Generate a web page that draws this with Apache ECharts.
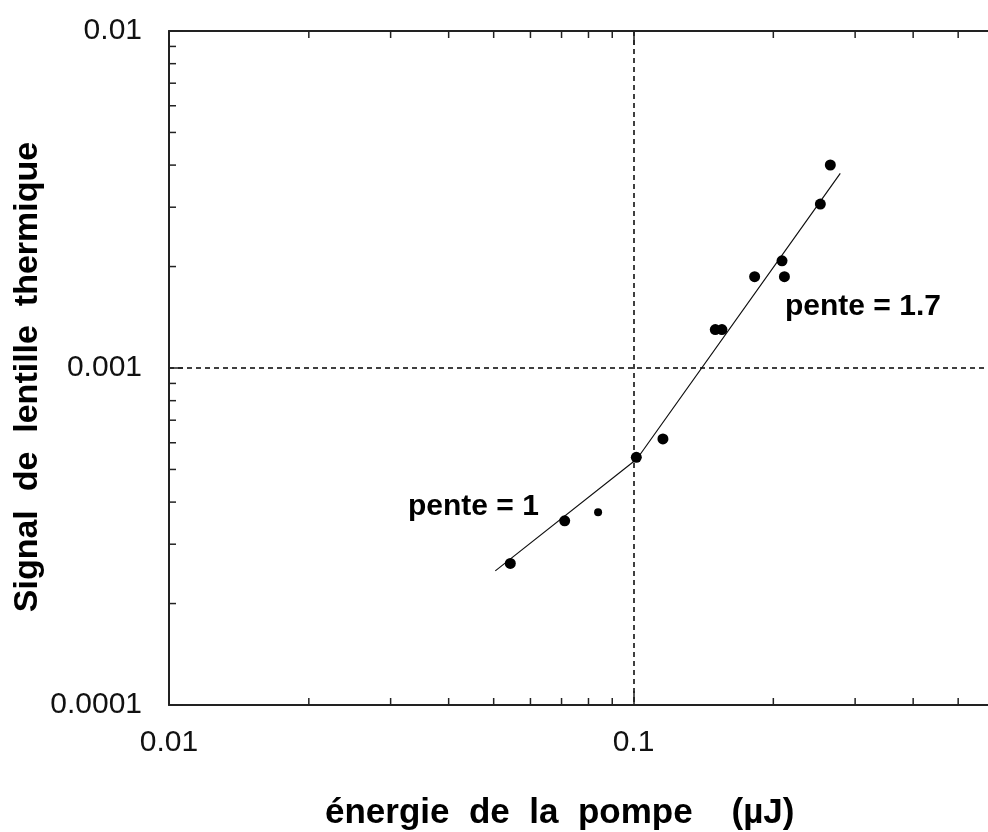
<!DOCTYPE html>
<html>
<head>
<meta charset="utf-8">
<script src="https://cdn.jsdelivr.net/npm/echarts@6/dist/echarts.min.js"></script>
<style>
html,body{margin:0;padding:0;background:#fff;overflow:hidden;width:988px;height:832px;}
#c{width:1110px;height:832px;}
</style>
</head>
<body>
<div id="c"></div>
<script>
// Data
var energy = [0.0543, 0.0711, 0.1014, 0.1157, 0.150, 0.155, 0.1823, 0.2088, 0.2113, 0.2525, 0.2653];
var signal = [0.000263, 0.000352, 0.000543, 0.000616, 0.0013, 0.0013, 0.001866, 0.00208, 0.001866, 0.003066, 0.004003];
var smallEnergy = [0.0839];
var smallSignal = [0.000373];
var fitEnergy = [0.0504, 0.1017, 0.2787];
var fitSignal = [0.00025, 0.000537, 0.00378];
var xMinorTicks = [0.02, 0.03, 0.04, 0.05, 0.06, 0.07, 0.08, 0.09, 0.2, 0.3, 0.4, 0.5, 0.6, 0.7, 0.8, 0.9];
var yMinorTicks = [0.0002, 0.0003, 0.0004, 0.0005, 0.0006, 0.0007, 0.0008, 0.0009, 0.002, 0.003, 0.004, 0.005, 0.006, 0.007, 0.008, 0.009];
var xTickLabels = {'0.01': '0.01', '0.1': '0.1', '1': '1'};
var yTickLabels = {'0.0001': '0.0001', '0.001': '0.001', '0.01': '0.01'};
var xTitle = 'énergie  de  la  pompe    (µJ)';
var yTitle = 'Signal  de  lentille  thermique';
var note1 = 'pente = 1';
var note2 = 'pente = 1.7';

var X_MIN = 0.01, X_MAX = 1, Y_MIN = 0.0001, Y_MAX = 0.01;
var FONT = '"Liberation Sans", Arial, sans-serif';

function fmt(map) {
  return function (v) {
    var k = String(+Number(v).toPrecision(1));
    return map[k] !== undefined ? map[k] : '';
  };
}

var chart = echarts.init(document.getElementById('c'), null, {renderer: 'canvas'});

var axisLineStyle = {color: '#222', width: 2};
var dashStyle = {type: [5, 4], color: '#000', width: 1.5};

var xMinorData = xMinorTicks.map(function (v) { return [v, Y_MIN]; });
var yMinorData = yMinorTicks.map(function (v) { return [X_MIN, v]; });

var option = {
  animation: false,
  backgroundColor: '#fff',
  grid: {left: 169, top: 31, width: 929, height: 674, containLabel: false},
  xAxis: [{
    type: 'log', logBase: 10, min: X_MIN, max: X_MAX, position: 'bottom',
    axisLine: {show: true, lineStyle: axisLineStyle},
    axisTick: {show: true, inside: true, length: 14, lineStyle: {color: '#222', width: 1.5}},
    axisLabel: {show: true, fontSize: 30, fontFamily: FONT, color: '#111', margin: 23, formatter: fmt(xTickLabels)},
    splitLine: {show: true, lineStyle: dashStyle},
    minorTick: {show: false}
  }, {
    type: 'log', logBase: 10, min: X_MIN, max: X_MAX, position: 'top',
    axisLine: {show: true, lineStyle: axisLineStyle},
    axisTick: {show: true, inside: true, length: 14, lineStyle: {color: '#222', width: 1.5}},
    axisLabel: {show: false},
    splitLine: {show: false}
  }],
  yAxis: [{
    type: 'log', logBase: 10, min: Y_MIN, max: Y_MAX, position: 'left',
    axisLine: {show: true, lineStyle: axisLineStyle},
    axisTick: {show: true, inside: true, length: 14, lineStyle: {color: '#222', width: 1.5}},
    axisLabel: {show: true, fontSize: 30, fontFamily: FONT, color: '#111', margin: 27, formatter: fmt(yTickLabels)},
    splitLine: {show: true, lineStyle: dashStyle},
    minorTick: {show: false}
  }],
  series: [
    {
      type: 'custom', xAxisIndex: 0, yAxisIndex: 0, silent: true, clip: false,
      data: xMinorData,
      renderItem: function (params, api) {
        var v = api.value(0);
        var pb = api.coord([v, Y_MIN]);
        var pt = api.coord([v, Y_MAX]);
        return {type: 'group', children: [
          {type: 'line', shape: {x1: pb[0], y1: pb[1], x2: pb[0], y2: pb[1] - 7}, style: {stroke: '#222', lineWidth: 1.5}},
          {type: 'line', shape: {x1: pt[0], y1: pt[1], x2: pt[0], y2: pt[1] + 7}, style: {stroke: '#222', lineWidth: 1.5}}
        ]};
      },
      z: 3
    },
    {
      type: 'custom', xAxisIndex: 0, yAxisIndex: 0, silent: true, clip: false,
      data: yMinorData,
      renderItem: function (params, api) {
        var v = api.value(1);
        var pl = api.coord([X_MIN, v]);
        return {type: 'line', shape: {x1: pl[0], y1: pl[1], x2: pl[0] + 7, y2: pl[1]}, style: {stroke: '#222', lineWidth: 1.5}};
      },
      z: 3
    },
    {
      type: 'line', xAxisIndex: 0, yAxisIndex: 0,
      data: fitEnergy.map(function (x, i) { return [x, fitSignal[i]]; }),
      showSymbol: false, symbol: 'none',
      lineStyle: {color: '#111', width: 1.2},
      z: 4
    },
    {
      type: 'scatter', xAxisIndex: 0, yAxisIndex: 0,
      data: energy.map(function (x, i) { return [x, signal[i]]; }),
      symbol: 'circle', symbolSize: 11,
      itemStyle: {color: '#000', opacity: 1},
      z: 5
    },
    {
      type: 'scatter', xAxisIndex: 0, yAxisIndex: 0,
      data: smallEnergy.map(function (x, i) { return [x, smallSignal[i]]; }),
      symbol: 'circle', symbolSize: 8,
      itemStyle: {color: '#000', opacity: 1},
      z: 5
    }
  ],
  graphic: [
    {type: 'text', x: 28, y: 377, rotation: Math.PI / 2,
      style: {text: yTitle, font: 'bold 34px ' + FONT, fill: '#000', textAlign: 'center', textVerticalAlign: 'middle'}},
    {type: 'text', x: 325, y: 813,
      style: {text: xTitle, font: 'bold 35px ' + FONT, fill: '#000', textAlign: 'left', textVerticalAlign: 'middle'}},
    {type: 'text', x: 408, y: 507,
      style: {text: note1, font: 'bold 30px ' + FONT, fill: '#000', textAlign: 'left', textVerticalAlign: 'middle'}},
    {type: 'text', x: 785, y: 307,
      style: {text: note2, font: 'bold 30px ' + FONT, fill: '#000', textAlign: 'left', textVerticalAlign: 'middle'}}
  ]
};
chart.setOption(option);
</script>
</body>
</html>
